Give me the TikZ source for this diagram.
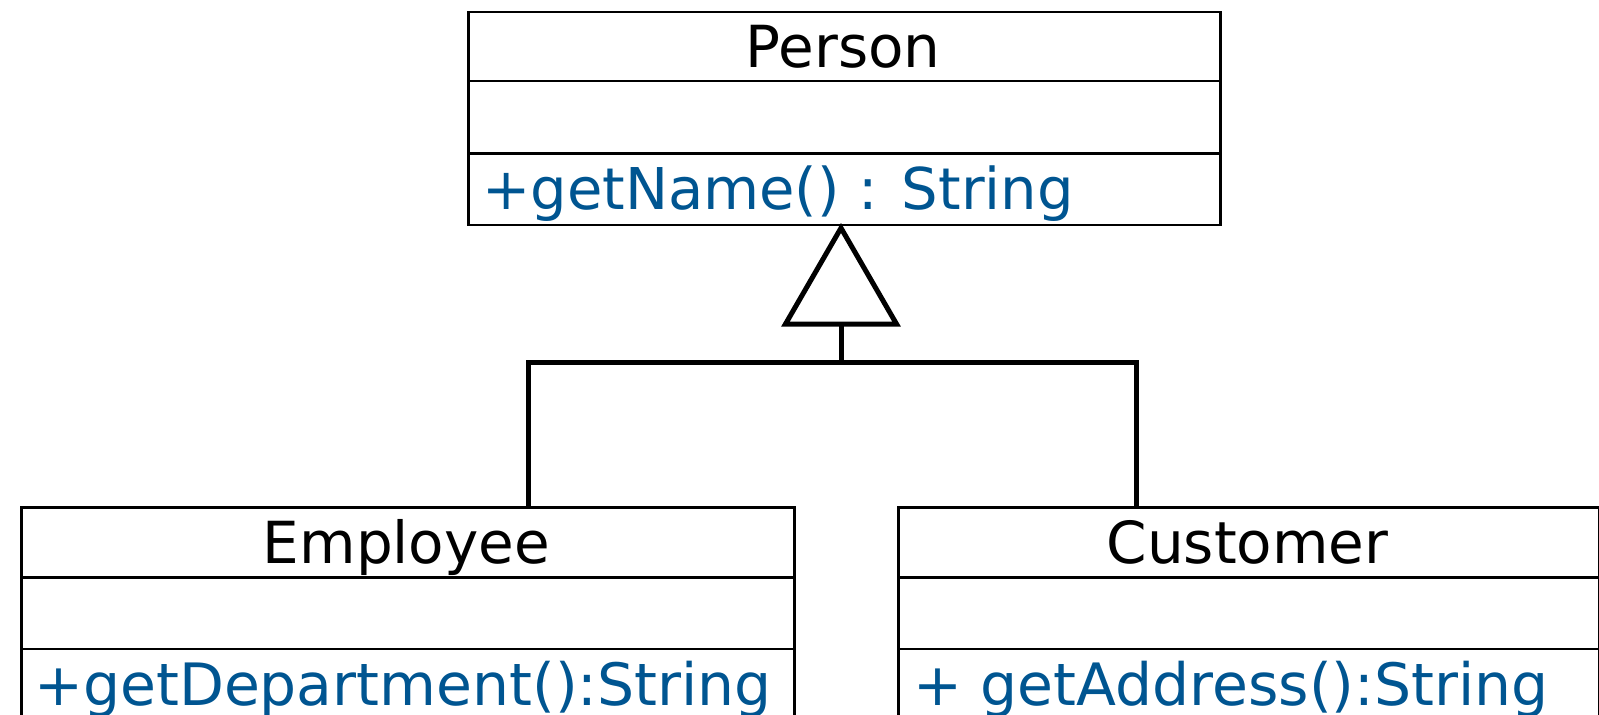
\documentclass[tikz,border=0pt]{standalone}
\usepackage{fontspec}
\setmainfont{DejaVu Sans}
\definecolor{methblue}{RGB}{0,85,145}
\begin{document}
\begin{tikzpicture}[x=1pt,y=-1pt,
  box/.style={draw=black, line width=2.6pt, rectangle, inner sep=0pt, anchor=north west},
  title/.style={anchor=base, inner sep=0pt, font=\fontsize{58}{70}\selectfont},
  meth/.style={anchor=base west, inner sep=0pt, text=methblue, font=\fontsize{58.4}{70}\selectfont},
  conn/.style={draw=black, line width=5pt}]
\useasboundingbox (0,0) rectangle (1599,715);
% Person
\node[box, minimum width=752pt, minimum height=213pt] (person) at (467,10.5) {};
\draw[line width=2.6pt] (467,81) -- (1219,81) (467,153.5) -- (1219,153.5);
\node[title] (ptitle) at (843,67) {Person};
\node[meth, font=\fontsize{57.6}{70}\selectfont] (pmeth) at (482,209.5) {+getName() : String};
% Employee
\node[box, minimum width=773pt, minimum height=214pt] (employee) at (20,506) {};
\draw[line width=2.6pt] (20,577.5) -- (793,577.5) (20,649) -- (793,649);
\node[title] (etitle) at (406.5,563) {Employee};
\node[meth] (emeth) at (34,705) {+getDepartment():String};
% Customer
\node[box, minimum width=701pt, minimum height=214pt] (customer) at (897,506) {};
\draw[line width=2.6pt] (897,577.5) -- (1598,577.5) (897,649) -- (1598,649);
\node[title] (ctitle) at (1247.5,563) {Customer};
\node[meth] (cmeth) at (913,705) {+ getAddress():String};
% generalization
\coordinate (apex) at (841,228);
\coordinate (tbase) at (841,324);
\coordinate (j) at (841,362);
\draw[conn, line join=miter, fill=white] (apex) -- (785.5,324) -- (896.5,324) -- cycle;
\draw[conn] (tbase) -- (j);
\draw[conn] ([xshift=120.5pt]employee.north) |- (j) -| ([xshift=-112.5pt]customer.north);
\end{tikzpicture}
\end{document}
